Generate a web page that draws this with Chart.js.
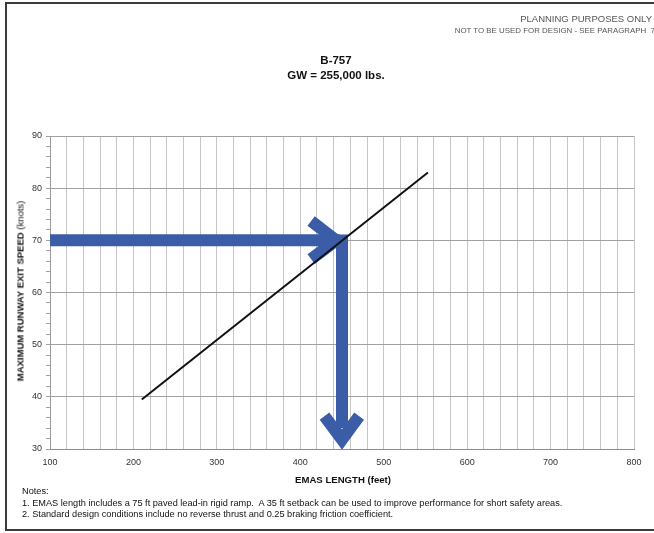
<!DOCTYPE html>
<html>
<head>
<meta charset="utf-8">
<script src="https://cdn.jsdelivr.net/npm/chart.js@4"></script>
<style>
  body { margin: 0; background: #fff; font-family: "Liberation Sans", Arial, sans-serif; }
  #wrap { position: relative; width: 654px; height: 533px; overflow: hidden; }
  #frame { position: absolute; left: 5px; top: 2px; width: 700px; height: 529px; border: 2px solid #3c3c3c; box-sizing: border-box; }
  .txt { position: absolute; white-space: nowrap; color: #111; }
  #chartBox { position: absolute; left: 0; top: 0; width: 654px; height: 533px; }
</style>
</head>
<body>
<div id="wrap">
  <div id="frame"></div>
  <div id="chartBox"><canvas id="chart"></canvas></div>
  <div class="txt" style="right:2px; top:13px; font-size:9.5px; color:#555;">PLANNING PURPOSES ONLY</div>
  <div class="txt" style="right:-1px; top:26px; font-size:7.9px; color:#555;">NOT TO BE USED FOR DESIGN - SEE PARAGRAPH &nbsp;7</div>
  <div class="txt" style="left:336px; top:53px; transform:translateX(-50%); font-size:11.5px; font-weight:bold; text-align:center; line-height:15px;">B-757<br>GW = 255,000 lbs.</div>
  <div class="txt" style="left:20px; top:291px; transform:translate(-50%,-50%) rotate(-90deg); font-size:9.5px; font-weight:bold;">MAXIMUM RUNWAY EXIT SPEED <span style="font-weight:normal">(knots)</span></div>
  <div class="txt" style="left:343px; top:474px; transform:translateX(-50%); font-size:9.6px; font-weight:bold;">EMAS LENGTH (feet)</div>
  <div class="txt" style="left:22px; top:486px; font-size:9.2px; line-height:11.5px;">Notes:<br>1. EMAS length includes a 75 ft paved lead-in rigid ramp.&nbsp; A 35 ft setback can be used to improve performance for short safety areas.<br>2. Standard design conditions include no reverse thrust and 0.25 braking friction coefficient.</div>
</div>
<script>
// performance line (EMAS length vs exit speed)
const lengthFt = [210, 553];
const speedKts = [39.5, 83];

// arrow reading 70 knots -> ~450 ft
const arrowShaftH = [[100, 70], [447, 70]];
const arrowHeadH = [[413, 73.7], [443, 70], [413, 66.4]];
const arrowShaftV = [[450, 71.1], [450, 34]];
const arrowHeadV = [[429, 36.3], [450, 31.8], [470.5, 36.3]];

const xTicks = [100, 200, 300, 400, 500, 600, 700, 800];
const yTicks = [30, 40, 50, 60, 70, 80, 90];

const BLUE = '#3b5ca6';

function pts(arr) {
    return arr.map(p => ({ x: p[0], y: p[1] }));
}

function arrowSet(arr) {
    return {
        data: pts(arr),
        borderColor: BLUE,
        borderWidth: 12,
        borderCapStyle: 'butt',
        borderJoinStyle: 'miter',
        pointRadius: 0,
        showLine: true,
        fill: false,
        clip: false
    };
}

const ctx = document.getElementById('chart').getContext('2d');

new Chart(ctx, {
    type: 'scatter',
    data: {
        datasets: [
            {
                data: lengthFt.map((x, i) => ({ x: x, y: speedKts[i] })),
                borderColor: '#111',
                borderWidth: 2,
                pointRadius: 0,
                showLine: true,
                fill: false
            },
            arrowSet(arrowShaftH),
            arrowSet(arrowShaftV),
            arrowSet(arrowHeadH),
            arrowSet(arrowHeadV)
        ]
    },
    options: {
        responsive: true,
        maintainAspectRatio: false,
        animation: false,
        layout: {
            padding: { left: 0, top: 136, right: 20, bottom: 64 }
        },
        plugins: {
            legend: { display: false },
            tooltip: { enabled: false },
            title: { display: false }
        },
        scales: {
            x: {
                type: 'linear',
                min: 100,
                max: 800,
                ticks: {
                    stepSize: 20,
                    padding: 8,
                    color: '#333',
                    font: { family: 'Liberation Sans', size: 9 },
                    maxRotation: 0,
                    autoSkip: false,
                    callback: function(value) {
                        return xTicks.includes(value) ? String(value) : '';
                    }
                },
                grid: {
                    color: '#c6c6c6',
                    drawTicks: false
                },
                border: { color: '#8c8c8c' },
                afterFit: function(scale) { scale.height = 20; }
            },
            y: {
                type: 'linear',
                min: 30,
                max: 90,
                ticks: {
                    stepSize: 2,
                    padding: 4,
                    color: '#333',
                    font: { family: 'Liberation Sans', size: 9 },
                    autoSkip: false,
                    callback: function(value) {
                        return yTicks.includes(value) ? String(value) : '';
                    }
                },
                grid: {
                    color: function(c) {
                        return yTicks.includes(c.tick.value) ? '#a0a0a0' : 'transparent';
                    },
                    tickColor: '#a0a0a0',
                    tickLength: 4
                },
                border: { color: '#9a9a9a' },
                afterFit: function(scale) { scale.width = 50; }
            }
        }
    }
});
</script>
</body>
</html>
